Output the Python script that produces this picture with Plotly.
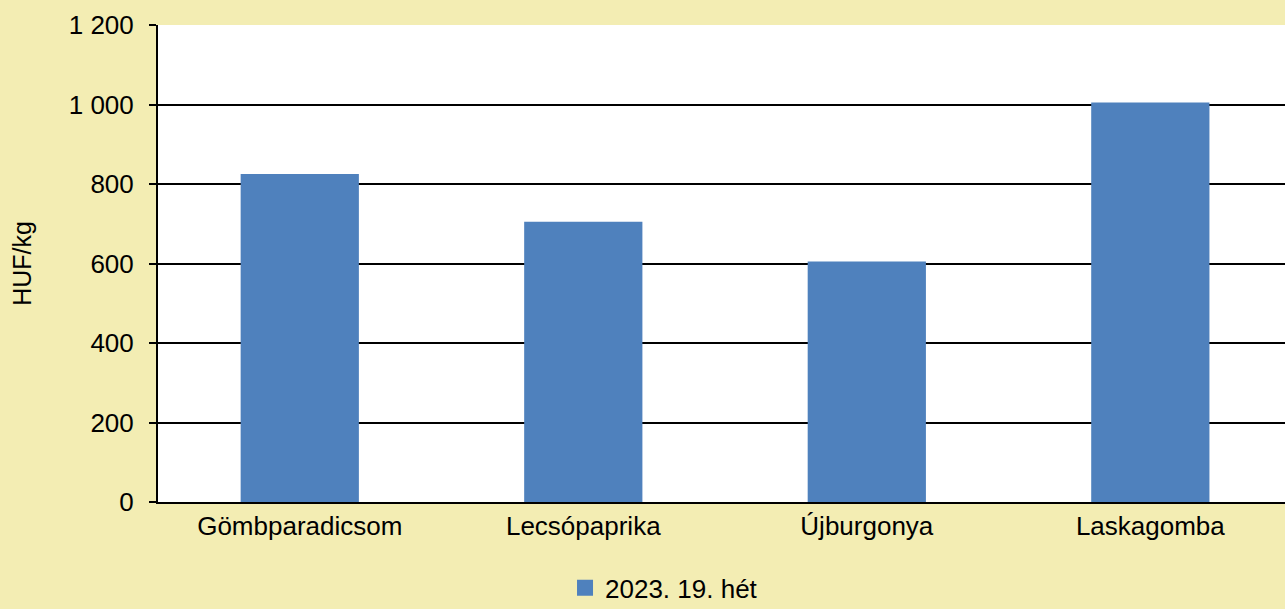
import plotly.graph_objects as go

categories = ["Gömbparadicsom", "Lecsópaprika", "Újburgonya", "Laskagomba"]
values = [825, 705, 605, 1005]
series_name = "2023. 19. hét"
y_tickvals = [0, 200, 400, 600, 800, 1000, 1200]
y_ticktext = ["0", "200", "400", "600", "800", "1 000", "1 200"]

bg = "#F3EDB3"
bar_color = "#4F81BD"
font_family = "Liberation Sans, Arial, sans-serif"

fig = go.Figure()
fig.add_trace(go.Bar(
    x=categories, y=values, name=series_name,
    marker=dict(color=bar_color, line=dict(width=0)),
    width=0.417, showlegend=False,
))
# legend entry with a larger square swatch
fig.add_trace(go.Scatter(
    x=[categories[0]], y=[None], name=series_name, mode="markers",
    marker=dict(symbol="square", size=18, color=bar_color),
    showlegend=True, hoverinfo="skip",
))

fig.update_layout(
    width=1285, height=609,
    paper_bgcolor=bg, plot_bgcolor="white",
    margin=dict(l=158, r=0, t=25, b=107, autoexpand=False),
    font=dict(family=font_family, size=26, color="black"),
    showlegend=True,
    legend=dict(orientation="h", x=0.449, xanchor="center", y=-0.18, yanchor="middle",
                font=dict(size=26), bgcolor="rgba(0,0,0,0)",
                itemwidth=30, itemsizing="trace"),
    xaxis=dict(
        range=[-0.5, 3.475], showline=True, linecolor="black", linewidth=2,
        showgrid=False, ticks="", tickfont=dict(size=26), fixedrange=True,
    ),
    yaxis=dict(
        range=[0, 1200], tickvals=y_tickvals, ticktext=y_ticktext,
        showline=True, linecolor="black", linewidth=2,
        showgrid=True, gridcolor="black", gridwidth=2,
        ticks="outside", ticklen=7, tickwidth=2, tickcolor="black",
        ticklabelstandoff=10, tickfont=dict(size=26),
        title=dict(text="HUF/kg", font=dict(size=25), standoff=30),
        zeroline=False, fixedrange=True,
    ),
    bargap=0.58,
)

fig.write_html("out.html", config={"displayModeBar": False},
               post_script="document.body.style.margin='0';document.body.style.padding='0';")
